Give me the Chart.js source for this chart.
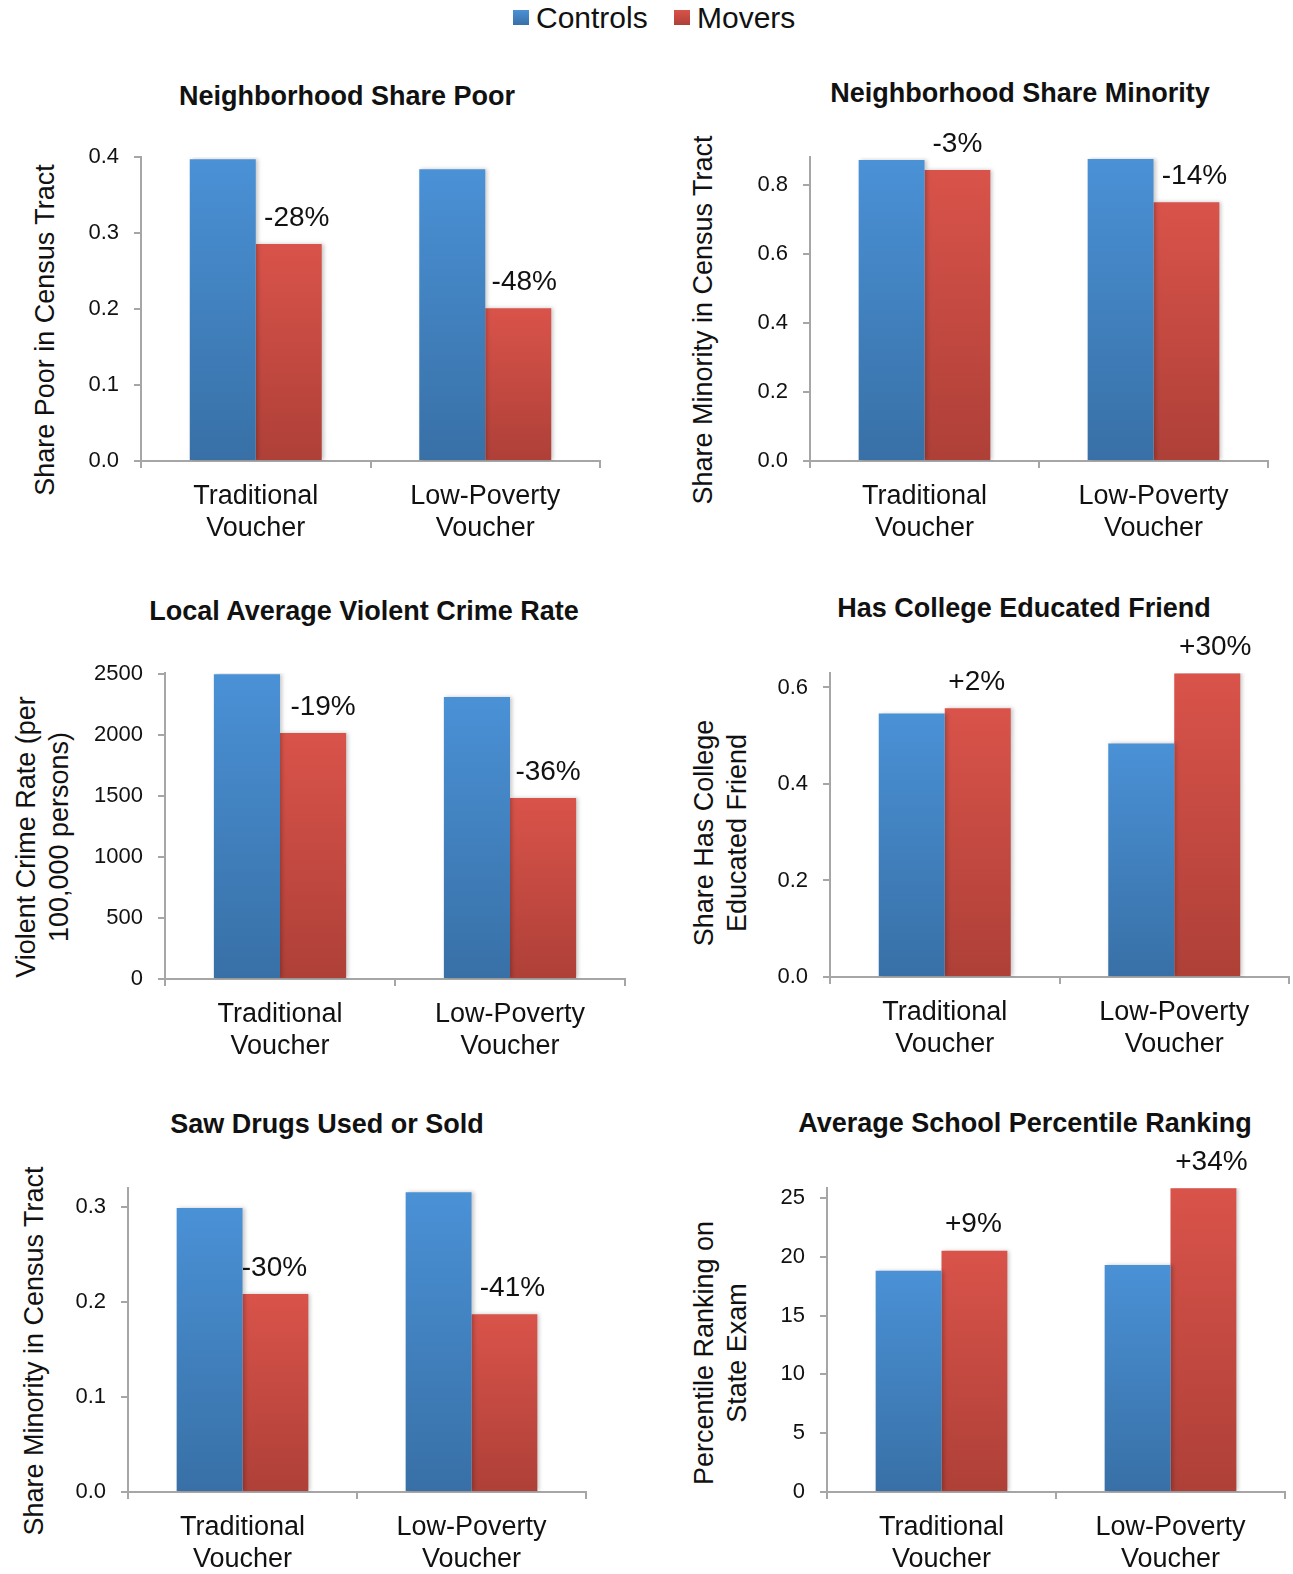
<!DOCTYPE html>
<html>
<head>
<meta charset="utf-8">
<script src="https://cdn.jsdelivr.net/npm/chart.js@4/dist/chart.umd.min.js"></script>
<style>
  html, body { margin: 0; padding: 0; background: #fff; }
  body { width: 1293px; height: 1574px; position: relative; overflow: hidden;
         font-family: "Liberation Sans", Arial, Helvetica, sans-serif; color: #111; }
  canvas { position: absolute; }
  .title { position: absolute; font-weight: bold; font-size: 27px; white-space: nowrap;
           transform: translate(-50%, -50%); line-height: 32px; }
  .ytitle { position: absolute; font-size: 27px; white-space: nowrap; text-align: center;
            line-height: 32.5px; transform: translate(-50%, -50%) rotate(-90deg); }
  .legend { position: absolute; top: 0; left: 0; font-size: 30px; line-height: 36px; }
  .legend span { position: absolute; white-space: nowrap; top: 0; }
  .legend i { position: absolute; width: 15.5px; height: 15.5px; top: 9.5px; }
</style>
</head>
<body>
<div class="legend">
  <i style="left:513px;background:linear-gradient(#4a91d6,#3870a6)"></i><span style="left:536px">Controls</span>
  <i style="left:674px;background:linear-gradient(#d9534a,#ae4038)"></i><span style="left:697px">Movers</span>
</div>
<script>
// shared categories / series
const categories = [['Traditional', 'Voucher'], ['Low-Poverty', 'Voucher']];
const seriesNames = ['Controls', 'Movers'];

// Neighborhood Share Poor
const poorControls = [0.397, 0.384];
const poorMovers = [0.2855, 0.201];
const poorChange = ['-28%', '-48%'];
const poorTicks = ['0.0', '0.1', '0.2', '0.3', '0.4'];

// Neighborhood Share Minority
const minorityControls = [0.872, 0.875];
const minorityMovers = [0.843, 0.750];
const minorityChange = ['-3%', '-14%'];
const minorityTicks = ['0.0', '0.2', '0.4', '0.6', '0.8'];

// Local Average Violent Crime Rate
const crimeControls = [2495, 2309];
const crimeMovers = [2014, 1482];
const crimeChange = ['-19%', '-36%'];
const crimeTicks = ['0', '500', '1000', '1500', '2000', '2500'];

// Has College Educated Friend
const friendControls = [0.546, 0.484];
const friendMovers = [0.557, 0.629];
const friendChange = ['+2%', '+30%'];
const friendTicks = ['0.0', '0.2', '0.4', '0.6'];

// Saw Drugs Used or Sold
const drugsControls = [0.299, 0.3155];
const drugsMovers = [0.2085, 0.187];
const drugsChange = ['-30%', '-41%'];
const drugsTicks = ['0.0', '0.1', '0.2', '0.3'];

// Average School Percentile Ranking
const schoolControls = [18.82, 19.3];
const schoolMovers = [20.52, 25.83];
const schoolChange = ['+9%', '+34%'];
const schoolTicks = ['0', '5', '10', '15', '20', '25'];

const FONT = '"Liberation Sans", Arial, Helvetica, sans-serif';
const AXIS_GRAY = '#a6a6a6';
const BLUE = ['#4a91d6', '#3870a6'];
const RED = ['#d9534a', '#ae4038'];

// plot box = axis position on the page, title/ytitle = text centers
const panels = [
  { title: 'Neighborhood Share Poor', titleAt: [347, 96],
    yTitle: ['Share Poor in Census Tract'], yTitleAt: [45, 330],
    box: { l: 141, t: 157, r: 600, b: 461 }, max: 0.4,
    controls: poorControls, movers: poorMovers, change: poorChange, ticks: poorTicks, shift: [8, 6] },
  { title: 'Neighborhood Share Minority', titleAt: [1020, 93],
    yTitle: ['Share Minority in Census Tract'], yTitleAt: [703, 320],
    box: { l: 810, t: 157, r: 1268, b: 461 }, max: 0.881,
    controls: minorityControls, movers: minorityMovers, change: minorityChange, ticks: minorityTicks, shift: [0, 8] },
  { title: 'Local Average Violent Crime Rate', titleAt: [364, 611],
    yTitle: ['Violent Crime Rate (per', '100,000 persons)'], yTitleAt: [42, 837],
    box: { l: 165, t: 673, r: 625, b: 979 }, max: 2505,
    controls: crimeControls, movers: crimeMovers, change: crimeChange, ticks: crimeTicks, shift: [10, 5] },
  { title: 'Has College Educated Friend', titleAt: [1024, 608],
    yTitle: ['Share Has College', 'Educated Friend'], yTitleAt: [720, 833],
    box: { l: 830, t: 673, r: 1289, b: 977 }, max: 0.630,
    controls: friendControls, movers: friendMovers, change: friendChange, ticks: friendTicks, shift: [-1, 8] },
  { title: 'Saw Drugs Used or Sold', titleAt: [327, 1124],
    yTitle: ['Share Minority in Census Tract'], yTitleAt: [34, 1351],
    box: { l: 128, t: 1188, r: 586, b: 1492 }, max: 0.32,
    controls: drugsControls, movers: drugsMovers, change: drugsChange, ticks: drugsTicks, shift: [-1, 8] },
  { title: 'Average School Percentile Ranking', titleAt: [1025, 1123],
    yTitle: ['Percentile Ranking on', 'State Exam'], yTitleAt: [720, 1353],
    box: { l: 827, t: 1188, r: 1285, b: 1492 }, max: 25.85,
    controls: schoolControls, movers: schoolMovers, change: schoolChange, ticks: schoolTicks, shift: [-1, 8] },
];

const Y_W = 90, X_H = 100, PAD_T = 60, PAD_R = 30;

// vertical gradient per bar, from its top down to zero
function barFill(colors) {
  return (ctx) => {
    const chart = ctx.chart;
    if (!chart.chartArea || ctx.type !== 'data') return colors[0];
    const y = chart.scales.y;
    const g = chart.ctx.createLinearGradient(0, y.getPixelForValue(ctx.raw), 0, y.getPixelForValue(0));
    g.addColorStop(0, colors[0]);
    g.addColorStop(1, colors[1]);
    return g;
  };
}

// soft shadow on bars + the % change above each Movers bar
const decor = {
  id: 'decor',
  beforeDatasetsDraw(chart) {
    const c = chart.ctx;
    c.save();
    c.shadowColor = 'rgba(0,0,0,0.22)';
    c.shadowBlur = 4;
    c.shadowOffsetX = 2;
  },
  afterDatasetsDraw(chart, args, opts) {
    const c = chart.ctx;
    c.restore();
    c.save();
    c.font = '28px ' + FONT;
    c.fillStyle = '#111';
    c.textAlign = 'center';
    c.textBaseline = 'middle';
    chart.getDatasetMeta(1).data.forEach((bar, i) => {
      c.fillText(opts.labels[i], bar.x + opts.shift[i], bar.y - 26);
    });
    c.restore();
  }
};

function addText(cls, lines, at) {
  const d = document.createElement('div');
  d.className = cls;
  d.style.left = at[0] + 'px';
  d.style.top = at[1] + 'px';
  d.innerHTML = lines.join('<br>');
  document.body.appendChild(d);
}

panels.forEach((p) => {
  addText('title', [p.title], p.titleAt);
  addText('ytitle', p.yTitle, p.yTitleAt);

  const canvas = document.createElement('canvas');
  const w = Y_W + (p.box.r - p.box.l) + PAD_R;
  const h = PAD_T + (p.box.b - p.box.t) + X_H;
  canvas.width = w;
  canvas.height = h;
  canvas.style.left = (p.box.l - Y_W) + 'px';
  canvas.style.top = (p.box.t - PAD_T) + 'px';
  document.body.appendChild(canvas);

  const tickValues = p.ticks.map(Number);

  new Chart(canvas, {
    type: 'bar',
    data: {
      labels: categories,
      datasets: [
        { label: seriesNames[0], data: p.controls, backgroundColor: barFill(BLUE) },
        { label: seriesNames[1], data: p.movers, backgroundColor: barFill(RED) },
      ],
    },
    options: {
      responsive: false,
      animation: false,
      events: [],
      layout: { padding: { top: PAD_T, right: PAD_R, left: 0, bottom: 0 } },
      datasets: { bar: { categoryPercentage: 0.575, barPercentage: 1.0 } },
      plugins: {
        legend: { display: false },
        tooltip: { enabled: false },
        decor: { labels: p.change, shift: p.shift },
      },
      scales: {
        x: {
          grid: { offset: true, drawOnChartArea: false, tickLength: 7, color: AXIS_GRAY, lineWidth: 2 },
          border: { color: AXIS_GRAY, width: 2 },
          ticks: { color: '#111', padding: 13, maxRotation: 0,
                   font: { family: FONT, size: 27, lineHeight: '32px' } },
          afterFit: (s) => { s.height = X_H; },
        },
        y: {
          min: 0,
          max: p.max,
          grid: { drawOnChartArea: false, tickLength: 7, color: AXIS_GRAY, lineWidth: 2 },
          border: { color: AXIS_GRAY, width: 2 },
          ticks: {
            color: '#111', padding: 15,
            font: { family: FONT, size: 22 },
            callback: (v) => p.ticks[tickValues.findIndex((t) => Math.abs(t - v) < 1e-9)],
          },
          afterBuildTicks: (s) => { s.ticks = tickValues.map((v) => ({ value: v })); },
          afterFit: (s) => { s.width = Y_W; },
        },
      },
    },
    plugins: [decor],
  });
});
</script>
</body>
</html>
